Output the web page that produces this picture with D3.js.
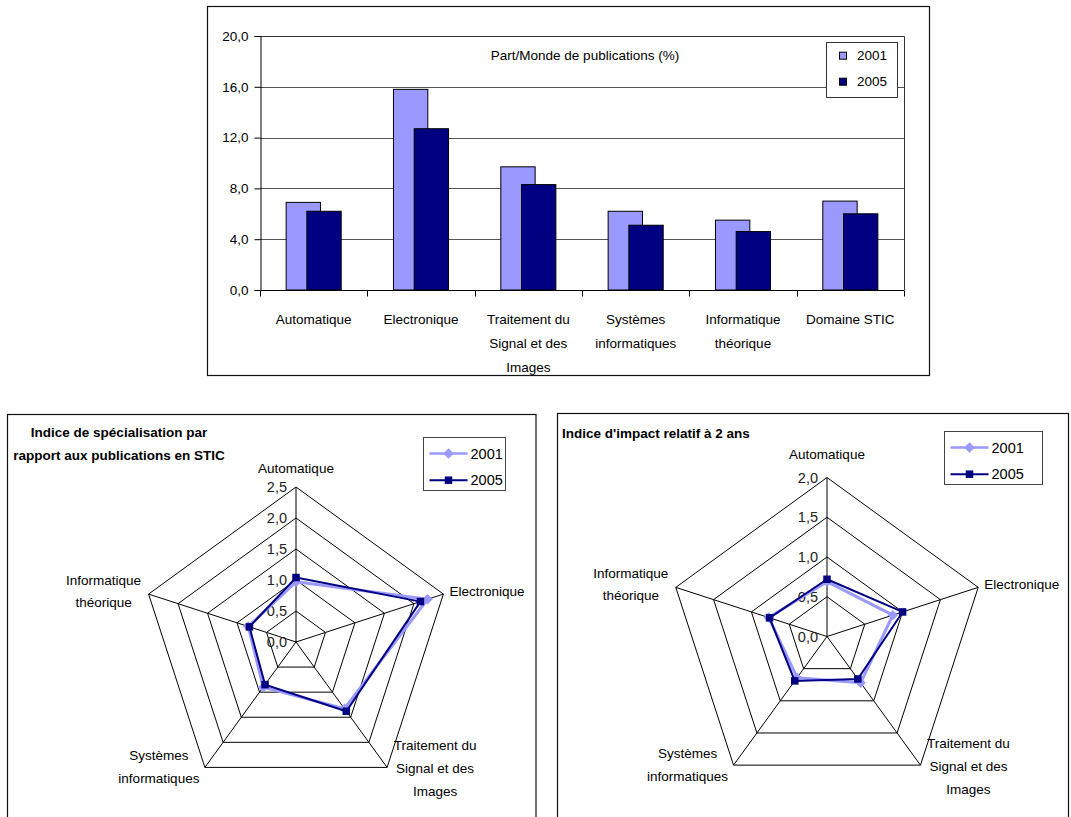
<!DOCTYPE html>
<html lang="fr">
<head>
<meta charset="utf-8">
<script src="https://cdn.jsdelivr.net/npm/d3@7"></script>
<style>
  html, body { margin: 0; padding: 0; background: #fff; }
  svg { display: block; font-family: "Liberation Sans", Arial, sans-serif; }
</style>
</head>
<body>
<svg id="chart" width="1071" height="817"></svg>
<script>
// ---- Data -------------------------------------------------------------
const years = ["2001", "2005"];

// Bar chart: world share of publications (%)
const barCategories = ["Automatique", "Electronique", "Traitement du Signal et des Images",
  "Systèmes informatiques", "Informatique théorique", "Domaine STIC"];
const barLabelLines = [["Automatique"], ["Electronique"], ["Traitement du", "Signal et des", "Images"],
  ["Systèmes", "informatiques"], ["Informatique", "théorique"], ["Domaine STIC"]];
const share2001 = [6.9, 15.8, 9.7, 6.2, 5.5, 7.0];
const share2005 = [6.2, 12.7, 8.3, 5.1, 4.6, 6.0];
const shareTicks = [0, 4, 8, 12, 16, 20];

// Radar charts
const radarAxes = ["Automatique", "Electronique", "Traitement du Signal et des Images",
  "Systèmes informatiques", "Informatique théorique"];
const radarLabelLines = [["Automatique"], ["Electronique"], ["Traitement du", "Signal et des", "Images"],
  ["Systèmes", "informatiques"], ["Informatique", "théorique"]];
const spec2001 = [0.97, 2.23, 1.33, 0.90, 0.81];
const spec2005 = [1.04, 2.11, 1.38, 0.85, 0.79];
const specTicks = [0, 0.5, 1.0, 1.5, 2.0, 2.5];
const impact2001 = [0.69, 0.87, 0.72, 0.64, 0.77];
const impact2005 = [0.72, 1.00, 0.66, 0.69, 0.76];
const impactTicks = [0, 0.5, 1.0, 1.5, 2.0];

// ---- Styling ----------------------------------------------------------
const C2001 = "#9999FF";
const C2005 = "#000080";
const FS = 13.5;
const fmt = v => d3.format(".1f")(v).replace(".", ",");

const svg = d3.select("#chart");
svg.append("rect").attr("width", 1071).attr("height", 817).attr("fill", "#fff");

function multiline(g, x, y, lines, lh, anchor) {
  const t = g.append("text")
    .attr("x", x).attr("y", y)
    .attr("text-anchor", anchor || "middle")
    .attr("font-size", FS).attr("fill", "#000");
  const off = -(lines.length - 1) / 2 * lh;
  lines.forEach((s, i) => {
    t.append("tspan").attr("x", x).attr("y", y + off + i * lh)
      .attr("dominant-baseline", "central").text(s);
  });
  return t;
}

// ---- Bar chart --------------------------------------------------------
(function barChart() {
  const g = svg.append("g");
  g.append("rect").attr("x", 207.5).attr("y", 6.5).attr("width", 722).attr("height", 369)
    .attr("fill", "#fff").attr("stroke", "#111").attr("stroke-width", 1.2);

  const left = 260, right = 904, top = 36, bottom = 290;
  const x = d3.scaleBand().domain(barCategories).range([left, right]).padding(0);
  const y = d3.scaleLinear().domain([0, 20]).range([bottom, top]);

  // gridlines
  g.append("g").selectAll("line").data(shareTicks.filter(d => d > 0 && d < 20)).join("line")
    .attr("x1", left).attr("x2", right)
    .attr("y1", d => Math.round(y(d)) + 0.5).attr("y2", d => Math.round(y(d)) + 0.5)
    .attr("stroke", "#555").attr("stroke-width", 1);
  // plot border top / right
  g.append("path")
    .attr("d", `M${left},${y(20) + 0.5}H${right + 0.5}V${bottom}`)
    .attr("fill", "none").attr("stroke", "#333").attr("stroke-width", 1);

  const bw = x.bandwidth();
  const barW = bw * 0.32, step = bw * 0.193;
  const series = [share2001, share2005];
  const colors = [C2001, C2005];
  series.forEach((vals, si) => {
    g.append("g").selectAll("rect").data(vals).join("rect")
      .attr("x", (d, i) => x(barCategories[i]) + bw / 2 - (barW + step) / 2 + si * step)
      .attr("y", d => y(d))
      .attr("width", barW)
      .attr("height", d => y(0) - y(d))
      .attr("fill", colors[si]).attr("stroke", "#000").attr("stroke-width", 1);
  });

  // y axis
  const ya = g.append("g").attr("transform", `translate(${left + 0.5},0)`)
    .call(d3.axisLeft(y).tickValues(shareTicks).tickFormat(fmt).tickSize(6).tickPadding(6));
  ya.select(".domain").attr("stroke", "#000");
  ya.selectAll(".tick line").attr("stroke", "#000");
  ya.selectAll("text").attr("font-size", FS).attr("font-family", null).attr("fill", "#000");

  // x axis
  const xa = g.append("g").attr("transform", `translate(0,${bottom + 0.5})`);
  xa.append("line").attr("x1", left).attr("x2", right).attr("stroke", "#000");
  xa.selectAll("line.tk").data(d3.range(barCategories.length + 1)).join("line")
    .attr("class", "tk")
    .attr("x1", i => Math.round(left + i * bw) + 0.5).attr("x2", i => Math.round(left + i * bw) + 0.5)
    .attr("y1", 0).attr("y2", 6).attr("stroke", "#000");
  barLabelLines.forEach((lines, i) => {
    const cx = x(barCategories[i]) + bw / 2;
    lines.forEach((s, k) => {
      g.append("text").attr("x", cx).attr("y", 319 + k * 24)
        .attr("text-anchor", "middle").attr("dominant-baseline", "central")
        .attr("font-size", FS).text(s);
    });
  });

  // title
  g.append("text").attr("x", 585).attr("y", 55).attr("text-anchor", "middle")
    .attr("dominant-baseline", "central").attr("font-size", FS)
    .text("Part/Monde de publications (%)");

  // legend
  const lg = g.append("g");
  lg.append("rect").attr("x", 826.5).attr("y", 42.5).attr("width", 71).attr("height", 55)
    .attr("fill", "#fff").attr("stroke", "#333").attr("stroke-width", 1);
  years.forEach((yr, i) => {
    const cy = 55.7 + i * 26;
    lg.append("rect").attr("x", 839.5).attr("y", cy - 3.5).attr("width", 7).attr("height", 7)
      .attr("fill", colors[i]).attr("stroke", "#000").attr("stroke-width", 1);
    lg.append("text").attr("x", 857).attr("y", cy).attr("dominant-baseline", "central")
      .attr("font-size", FS).text(yr);
  });
})();

// ---- Radar charts -----------------------------------------------------
function radar(opts) {
  const g = svg.append("g");
  const f = opts.frame;
  g.append("rect").attr("x", f[0]).attr("y", f[1]).attr("width", f[2]).attr("height", f[3])
    .attr("fill", "#fff").attr("stroke", "#111").attr("stroke-width", 1.2);

  const cx = opts.cx, cy = opts.cy;
  const maxV = opts.ticks[opts.ticks.length - 1];
  const r = d3.scaleLinear().domain([0, maxV]).range([0, opts.R]);
  const n = radarAxes.length;
  const ang = i => i * 2 * Math.PI / n;
  const pt = (i, v) => [cx + r(v) * Math.sin(ang(i)), cy - r(v) * Math.cos(ang(i))];

  // grid rings
  opts.ticks.filter(t => t > 0).forEach(t => {
    g.append("path")
      .attr("d", d3.line()(d3.range(n).map(i => pt(i, t))) + "Z")
      .attr("fill", "none").attr("stroke", "#000").attr("stroke-width", 1);
  });
  // spokes
  d3.range(n).forEach(i => {
    const p = pt(i, maxV);
    g.append("line").attr("x1", cx).attr("y1", cy).attr("x2", p[0]).attr("y2", p[1])
      .attr("stroke", "#000").attr("stroke-width", 1);
  });
  // tick labels
  opts.ticks.forEach(t => {
    g.append("text").attr("x", cx - 9).attr("y", cy - r(t))
      .attr("text-anchor", "end").attr("dominant-baseline", "central")
      .attr("font-size", FS + 1).attr("fill", "#222").text(fmt(t));
  });

  // axis labels
  const v0 = pt(0, maxV), v1 = pt(1, maxV), v2 = pt(2, maxV), v3 = pt(3, maxV), v4 = pt(4, maxV);
  multiline(g, v0[0], v0[1] - opts.topGap, radarLabelLines[0], 22, "middle");
  multiline(g, v1[0] + 6, v1[1] - 3, radarLabelLines[1], 22, "start");
  multiline(g, v2[0] + 48, v2[1] + 1, radarLabelLines[2], 23, "middle");
  multiline(g, v3[0] - 46, v3[1], radarLabelLines[3], 23, "middle");
  multiline(g, v4[0] - 45, v4[1] - 3, radarLabelLines[4], 22, "middle");

  // series
  const line = d3.line();
  const s1 = opts.s2001.map((v, i) => pt(i, v));
  const s2 = opts.s2005.map((v, i) => pt(i, v));
  g.append("path").attr("d", line(s1) + "Z").attr("fill", "none")
    .attr("stroke", C2001).attr("stroke-width", 3).attr("stroke-linejoin", "round");
  g.append("g").selectAll("path").data(s1).join("path")
    .attr("d", d3.symbol(d3.symbolDiamond2, 70)())
    .attr("transform", d => `translate(${d[0]},${d[1]})`)
    .attr("fill", C2001);
  g.append("path").attr("d", line(s2) + "Z").attr("fill", "none")
    .attr("stroke", C2005).attr("stroke-width", 2);
  g.append("g").selectAll("rect").data(s2).join("rect")
    .attr("x", d => d[0] - 3.75).attr("y", d => d[1] - 3.75)
    .attr("width", 7.5).attr("height", 7.5).attr("fill", C2005);

  // title
  const tt = g.append("text").attr("font-weight", "bold").attr("font-size", FS)
    .attr("text-anchor", opts.titleAnchor);
  opts.title.forEach((s, i) => {
    tt.append("tspan").attr("x", opts.titleX).attr("y", opts.titleY + i * 23).text(s);
  });

  // legend
  const L = opts.legend;
  g.append("rect").attr("x", L[0]).attr("y", L[1]).attr("width", L[2]).attr("height", L[3])
    .attr("fill", "#fff").attr("stroke", "#444").attr("stroke-width", 1);
  years.forEach((yr, i) => {
    const ly = L[1] + 16 + i * 26.7;
    const lx0 = L[0] + 6, lx1 = L[0] + 44;
    g.append("line").attr("x1", lx0).attr("x2", lx1).attr("y1", ly).attr("y2", ly)
      .attr("stroke", i ? C2005 : C2001).attr("stroke-width", i ? 2 : 2.5);
    const mx = (lx0 + lx1) / 2;
    if (i === 0) {
      g.append("path").attr("d", d3.symbol(d3.symbolDiamond2, 70)())
        .attr("transform", `translate(${mx},${ly})`).attr("fill", C2001);
    } else {
      g.append("rect").attr("x", mx - 3.75).attr("y", ly - 3.75).attr("width", 7.5).attr("height", 7.5)
        .attr("fill", C2005);
    }
    g.append("text").attr("x", lx1 + 3).attr("y", ly).attr("dominant-baseline", "central")
      .attr("font-size", FS + 1).text(yr);
  });
}

radar({
  frame: [7.5, 414.5, 528.5, 420],
  cx: 296, cy: 642, R: 155, ticks: specTicks,
  s2001: spec2001, s2005: spec2005, topGap: 19,
  title: ["Indice de spécialisation par", "rapport aux publications en STIC"],
  titleX: 119, titleY: 437, titleAnchor: "middle",
  legend: [423.5, 437.5, 82, 53]
});

radar({
  frame: [557.5, 413.5, 511, 420],
  cx: 827, cy: 636.5, R: 159, ticks: impactTicks,
  s2001: impact2001, s2005: impact2005, topGap: 23,
  title: ["Indice d'impact relatif à 2 ans"],
  titleX: 562, titleY: 438, titleAnchor: "start",
  legend: [944.5, 431.5, 98, 53]
});
</script>
</body>
</html>
